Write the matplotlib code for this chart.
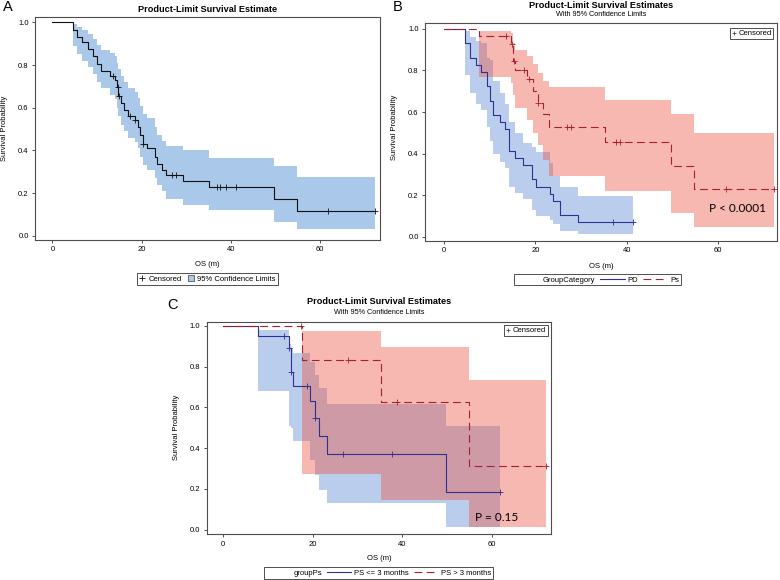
import matplotlib
matplotlib.use("Agg")
import matplotlib.pyplot as plt
from matplotlib.lines import Line2D
from matplotlib.patches import Patch
from matplotlib.ticker import FormatStrFormatter

plt.rcParams["font.family"] = ["Liberation Sans", "DejaVu Sans"]

# ---- Panel A: all patients ----
A_TIMES = [0, 4.6, 5.5, 6.7, 7.9, 9.2, 10.1, 10.8, 13.0, 14.0, 14.4, 14.8, 15.3, 16.0,
           17.0, 18.5, 19.2, 19.7, 20.4, 21.2, 23.0, 23.5, 24.5, 25.4, 29.4, 35.2, 49.8, 54.8]
A_SURV = [1.0, 0.963, 0.93, 0.91, 0.875, 0.84, 0.805, 0.77, 0.75, 0.73, 0.695, 0.655, 0.62, 0.59,
          0.56, 0.54, 0.51, 0.47, 0.43, 0.41, 0.37, 0.335, 0.31, 0.285, 0.255, 0.228, 0.17, 0.115]
A_LOWER = [0.89, 0.85, 0.82, 0.79, 0.76, 0.72, 0.69, 0.66, 0.64, 0.60, 0.56, 0.52, 0.49, 0.46,
           0.44, 0.41, 0.37, 0.33, 0.31, 0.27, 0.24, 0.21, 0.17, 0.145, 0.12, 0.065, 0.03]
A_UPPER = [0.99, 0.98, 0.965, 0.945, 0.92, 0.895, 0.87, 0.855, 0.84, 0.81, 0.78, 0.75, 0.72, 0.69,
           0.675, 0.645, 0.61, 0.57, 0.55, 0.51, 0.47, 0.445, 0.42, 0.40, 0.363, 0.327, 0.273]
A_END = 72.3
A_CENSOR = [13.5, 14.7, 15.0, 17.4, 18.5, 20.4, 26.8, 27.7, 37.0, 37.6, 38.9, 41.3, 61.9, 72.3]

# ---- Panel B: PD vs Ps ----
PD_TIMES = [0, 4.6, 5.7, 7.0, 8.0, 9.3, 10.1, 10.8, 12.2, 13.3, 14.1, 15.5, 17.3, 19.2, 20.1,
            23.2, 23.9, 25.4, 29.4]
PD_SURV = [1.0, 0.931, 0.862, 0.828, 0.793, 0.724, 0.655, 0.586, 0.552, 0.517, 0.414, 0.379,
           0.345, 0.276, 0.241, 0.207, 0.172, 0.103, 0.069]
PD_LOWER = [0.78, 0.69, 0.64, 0.61, 0.53, 0.46, 0.40, 0.36, 0.33, 0.24, 0.21, 0.18, 0.13, 0.10,
            0.08, 0.06, 0.03, 0.015]
PD_UPPER = [0.99, 0.96, 0.94, 0.93, 0.86, 0.85, 0.75, 0.69, 0.64, 0.55, 0.50, 0.45, 0.43, 0.41,
            0.355, 0.29, 0.24, 0.196]
PD_END = 41.3
PD_CENSOR = [37.0, 41.3]

PS_TIMES = [0, 7.7, 14.6, 15.0, 15.5, 18.1, 19.4, 20.6, 21.7, 23.0, 35.2, 49.6, 54.7]
PS_SURV = [1.0, 0.965, 0.925, 0.845, 0.80, 0.76, 0.70, 0.645, 0.59, 0.53, 0.455, 0.34, 0.228]
PS_LOWER = [0.77, 0.74, 0.68, 0.62, 0.56, 0.50, 0.44, 0.37, 0.294, 0.22, 0.115, 0.045]
PS_UPPER = [0.99, 0.98, 0.93, 0.90, 0.87, 0.83, 0.79, 0.75, 0.72, 0.66, 0.59, 0.50]
PS_END = 72.2
PS_CENSOR = [13.6, 14.8, 15.2, 17.5, 18.6, 20.6, 26.8, 27.8, 37.6, 38.6, 61.8, 72.2]

# ---- Panel C: PS <= 3 months vs PS > 3 months ----
LE_TIMES = [0, 7.8, 14.8, 15.1, 15.7, 19.4, 20.5, 21.5, 23.1, 49.8]
LE_SURV = [1.0, 0.949, 0.889, 0.771, 0.706, 0.631, 0.549, 0.459, 0.37, 0.183]
LE_LOWER = [0.681, 0.51, 0.50, 0.435, 0.34, 0.27, 0.195, 0.129, 0.012]
LE_UPPER = [0.98, 0.91, 0.89, 0.865, 0.82, 0.76, 0.693, 0.616, 0.51]
LE_END = 61.8
LE_CENSOR = [13.6, 14.8, 15.2, 18.8, 20.5, 26.8, 37.7, 61.8]

GT_TIMES = [0, 17.6, 35.2, 54.9]
GT_SURV = [1.0, 0.833, 0.625, 0.312]
GT_LOWER = [0.273, 0.145, 0.012]
GT_UPPER = [0.975, 0.894, 0.734]
GT_END = 72.1
GT_CENSOR = [17.5, 27.9, 38.9, 72.1]

X_TICKS = [0, 20, 40, 60]
Y_TICKS = [0.0, 0.2, 0.4, 0.6, 0.8, 1.0]

BLACK_LINE = "#111111"
BLUE_LINE = "#2e3192"
RED_LINE = "#a51f2e"
A_BAND = "#a9c8ea"
BLUE_BAND = "#5583d2"
RED_BAND = "#ec4e3c"
BAND_ALPHA = 0.4
DASH = (7, 4)

W, H = 780, 580


def surv_at(times, surv, t):
    s = surv[0]
    for ti, si in zip(times, surv):
        if ti <= t:
            s = si
    return s


def draw_band(ax, times, lower, upper, end, band_color, alpha):
    bx = times[1:] + [end]
    ax.fill_between(bx, lower + [lower[-1]], upper + [upper[-1]], step="post",
                    color=band_color, alpha=alpha, linewidth=0)


def draw_line(ax, times, surv, end, censors, color, dashed=False):
    line, = ax.step(times + [end], surv + [surv[-1]], where="post", color=color, lw=0.8)
    if dashed:
        line.set_dashes(DASH)
    cy = [surv_at(times, surv, t) for t in censors]
    ax.plot(censors, cy, ls="none", marker="+", ms=4, mew=0.6, color=color)


def style_axes(ax, xlim, ylim):
    ax.set_xlim(xlim)
    ax.set_ylim(ylim)
    ax.set_xticks(X_TICKS)
    ax.set_yticks(Y_TICKS)
    ax.yaxis.set_major_formatter(FormatStrFormatter("%.1f"))
    ax.tick_params(direction="out", length=2.5, width=0.6, labelsize=5.5, pad=2, color="#333333")
    for s in ax.spines.values():
        s.set_linewidth(0.8)
        s.set_color("#4d4d4d")


def px(x, y):
    return x / W, 1 - y / H


def censor_box(ax, anchor):
    leg = ax.legend(handles=[Line2D([], [], ls="none", marker="+", ms=3, mew=0.5, color="#333333")],
                    labels=["Censored"], loc="upper right", bbox_to_anchor=anchor,
                    fontsize=5.5, fancybox=False, edgecolor="black", handlelength=0.6,
                    handletextpad=0.3, borderpad=0.25, borderaxespad=0)
    leg.get_frame().set_linewidth(0.6)
    ax.add_artist(leg)


fig = plt.figure(figsize=(7.8, 5.8), dpi=100)

# ---------------- A ----------------
axA = fig.add_axes([35 / W, 1 - 240 / H, 345 / W, 223 / H])
draw_band(axA, A_TIMES, A_LOWER, A_UPPER, A_END, A_BAND, 1.0)
draw_line(axA, A_TIMES, A_SURV, A_END, A_CENSOR, BLACK_LINE)
style_axes(axA, (-3.9, 73.5), (-0.02, 1.025))
fig.text(*px(207.5, 9), "Product-Limit Survival Estimate", ha="center", va="center",
         fontsize=6.6, fontweight="bold")
fig.text(*px(8, 7), "A", ha="center", va="center", fontsize=10.5)
fig.text(*px(5, 128), "Survival Probability", rotation=90, ha="center", va="center", fontsize=5.5)
fig.text(*px(207.5, 265), "OS (m)", ha="center", va="center", fontsize=5.5)
legA = axA.legend(
    handles=[Line2D([], [], ls="none", marker="+", ms=4, mew=0.6, color=BLACK_LINE),
             Patch(facecolor=A_BAND, edgecolor="#555555", linewidth=0.6)],
    labels=["Censored", "95% Confidence Limits"],
    loc="center", bbox_to_anchor=(0.5, -0.175), ncol=2, fontsize=5.5, frameon=True,
    fancybox=False, edgecolor="black", handlelength=0.8, handleheight=0.8, handletextpad=0.4,
    columnspacing=0.8, borderpad=0.25)
legA.get_frame().set_linewidth(0.6)

# ---------------- B ----------------
axB = fig.add_axes([425 / W, 1 - 240.7 / H, 352 / W, 217.4 / H])
draw_band(axB, PD_TIMES, PD_LOWER, PD_UPPER, PD_END, BLUE_BAND, BAND_ALPHA)
draw_band(axB, PS_TIMES, PS_LOWER, PS_UPPER, PS_END, RED_BAND, BAND_ALPHA)
draw_line(axB, PD_TIMES, PD_SURV, PD_END, PD_CENSOR, BLUE_LINE)
draw_line(axB, PS_TIMES, PS_SURV, PS_END, PS_CENSOR, RED_LINE, dashed=True)
style_axes(axB, (-4.2, 72.9), (-0.019, 1.027))
axB.text(64.3, 0.138, "P < 0.0001", ha="center", va="center", fontsize=8.5, family=["Lato", "DejaVu Sans"])
fig.text(*px(601, 5), "Product-Limit Survival Estimates", ha="center", va="center",
         fontsize=6.6, fontweight="bold")
fig.text(*px(601, 15), "With 95% Confidence Limits", ha="center", va="center", fontsize=5.2)
fig.text(*px(398, 7), "B", ha="center", va="center", fontsize=10.5)
fig.text(*px(395, 127), "Survival Probability", rotation=90, ha="center", va="center", fontsize=5.5)
fig.text(*px(601, 266.7), "OS (m)", ha="center", va="center", fontsize=5.5)

censor_box(axB, (0.99, 0.978))
pd_line = Line2D([], [], color=BLUE_LINE, lw=0.8)
ps_line = Line2D([], [], color=RED_LINE, lw=0.8, dashes=DASH)
blank = Line2D([], [], alpha=0)
gB = axB.legend(handles=[blank, pd_line, ps_line], labels=["GroupCategory", "PD", "Ps"],
                loc="center", bbox_to_anchor=(0.49, -0.18), ncol=3, fontsize=5.5,
                fancybox=False, edgecolor="black", handlelength=3.2, handletextpad=0.4,
                columnspacing=0.6, borderpad=0.25)
gB.get_frame().set_linewidth(0.6)

# ---------------- C ----------------
axC = fig.add_axes([206.7 / W, 1 - 534.3 / H, 344.3 / W, 212.6 / H])
draw_band(axC, LE_TIMES, LE_LOWER, LE_UPPER, LE_END, BLUE_BAND, BAND_ALPHA)
draw_band(axC, GT_TIMES, GT_LOWER, GT_UPPER, GT_END, RED_BAND, BAND_ALPHA)
draw_line(axC, LE_TIMES, LE_SURV, LE_END, LE_CENSOR, BLUE_LINE)
draw_line(axC, GT_TIMES, GT_SURV, GT_END, GT_CENSOR, RED_LINE, dashed=True)
style_axes(axC, (-3.7, 73.3), (-0.023, 1.02))
axC.text(61.2, 0.057, "P = 0.15", ha="center", va="center", fontsize=8.5, family=["Lato", "DejaVu Sans"])
fig.text(*px(378.8, 302), "Product-Limit Survival Estimates", ha="center", va="center",
         fontsize=6.6, fontweight="bold")
fig.text(*px(378.8, 312), "With 95% Confidence Limits", ha="center", va="center", fontsize=5.2)
fig.text(*px(172, 305), "C", ha="center", va="center", fontsize=10.5)
fig.text(*px(176, 427), "Survival Probability", rotation=90, ha="center", va="center", fontsize=5.5)
fig.text(*px(378.8, 558), "OS (m)", ha="center", va="center", fontsize=5.5)

censor_box(axC, (0.991, 0.984))
gC = axC.legend(handles=[blank, pd_line, ps_line],
                labels=["groupPs", "PS <= 3 months", "PS > 3 months"],
                loc="center", bbox_to_anchor=(0.5, -0.182), ncol=3, fontsize=5.5,
                fancybox=False, edgecolor="black", handlelength=3.2, handletextpad=0.4,
                columnspacing=0.6, borderpad=0.25)
gC.get_frame().set_linewidth(0.6)

fig.savefig("out.png", dpi=100)
